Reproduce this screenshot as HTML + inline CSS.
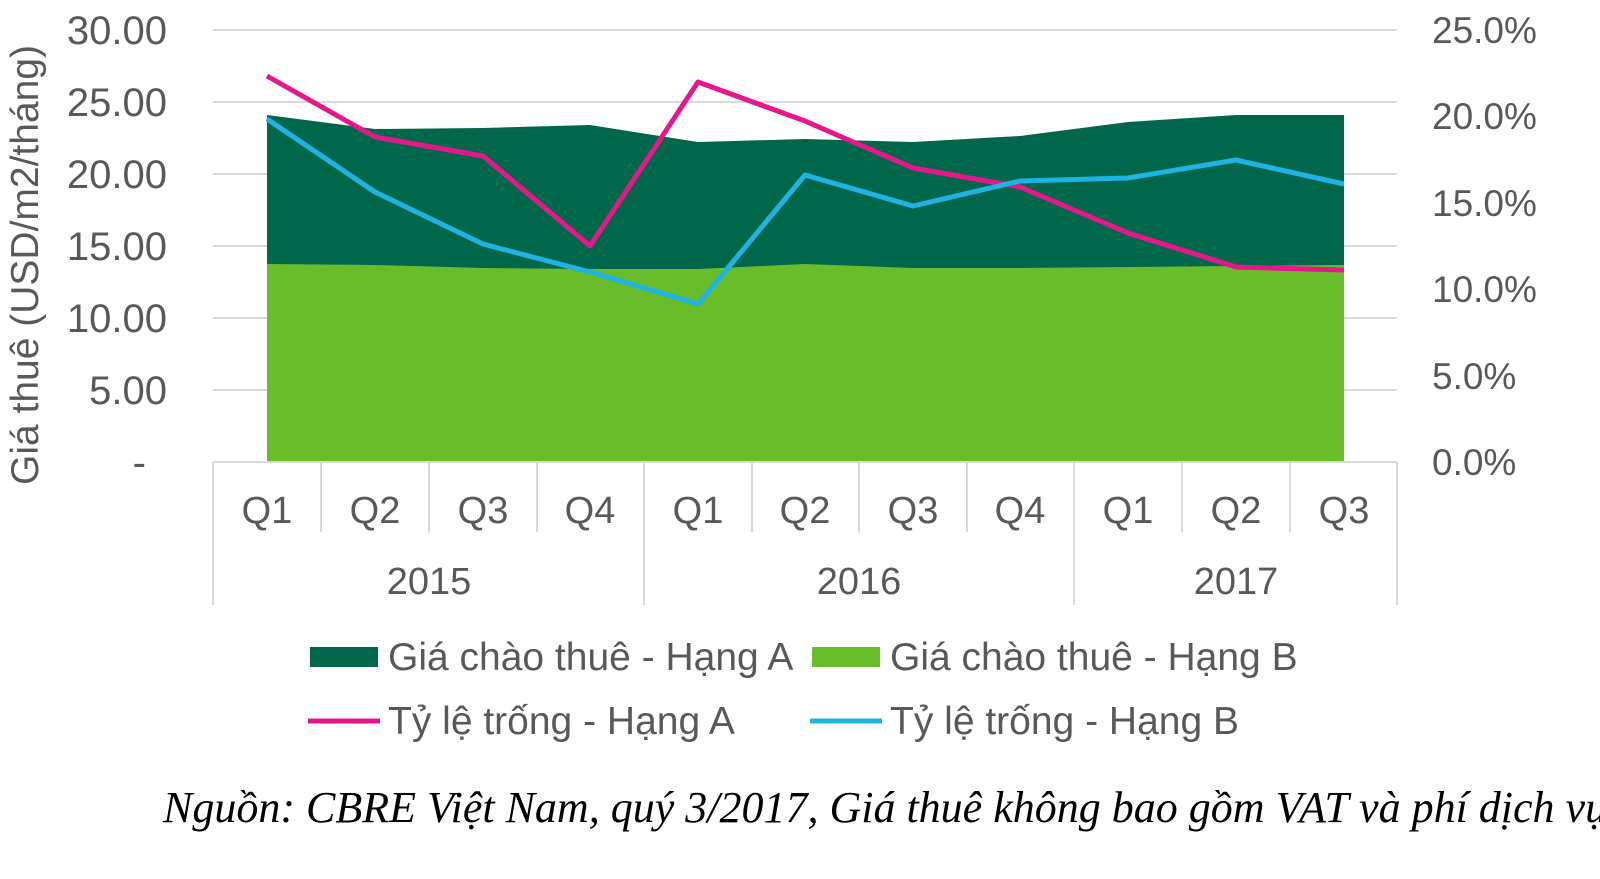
<!DOCTYPE html>
<html><head><meta charset="utf-8"><style>
body{margin:0;background:#fff;width:1600px;height:874px;overflow:hidden}
</style></head><body>
<svg width="1600" height="874" xmlns="http://www.w3.org/2000/svg" font-family="Liberation Sans, sans-serif">
<g stroke="#d9d9d9" stroke-width="2">
<line x1="213" y1="30" x2="1397" y2="30"/><line x1="213" y1="102" x2="1397" y2="102"/>
<line x1="213" y1="174" x2="1397" y2="174"/><line x1="213" y1="246" x2="1397" y2="246"/>
<line x1="213" y1="318" x2="1397" y2="318"/><line x1="213" y1="390" x2="1397" y2="390"/>
</g>
<polygon fill="#00674a" points="267,462 267,115 375,129 483,128 590,125 698,142 805,139 913,142 1020,136 1128,122 1236,115 1344,115 1344,462"/>
<polygon fill="#6abd2a" points="267,462 267,264 375,265 483,268 590,269 698,269 805,264 913,268 1020,268 1128,267 1236,266 1344,265 1344,462"/>
<polyline fill="none" stroke="#e5178a" stroke-width="5" stroke-linejoin="round" points="267,76 375,137 483,156 590,246 698,82 805,121 913,168 1020,187 1128,233 1236,267 1344,270"/>
<polyline fill="none" stroke="#1fb3e3" stroke-width="5" stroke-linejoin="round" points="267,119 375,192 483,244 590,272 698,304 805,175 913,206 1020,181 1128,178 1236,160 1344,184"/>
<g stroke="#d9d9d9" stroke-width="2">
<line x1="213" y1="462" x2="1397" y2="462"/>
<line x1="321" y1="462" x2="321" y2="532"/><line x1="429" y1="462" x2="429" y2="532"/><line x1="537" y1="462" x2="537" y2="532"/>
<line x1="752" y1="462" x2="752" y2="532"/><line x1="859" y1="462" x2="859" y2="532"/><line x1="967" y1="462" x2="967" y2="532"/>
<line x1="1182" y1="462" x2="1182" y2="532"/><line x1="1290" y1="462" x2="1290" y2="532"/>
<line x1="213" y1="462" x2="213" y2="605"/><line x1="644" y1="462" x2="644" y2="605"/><line x1="1074" y1="462" x2="1074" y2="605"/><line x1="1397" y1="462" x2="1397" y2="605"/>
</g>
<g fill="#595959" font-size="40">
<g text-anchor="end">
<text x="167" y="44">30.00</text><text x="167" y="116">25.00</text><text x="167" y="188">20.00</text>
<text x="167" y="260">15.00</text><text x="167" y="332">10.00</text><text x="167" y="404">5.00</text><text x="146" y="476">-</text>
</g>
<g text-anchor="start" font-size="37">
<text x="1432" y="43">25.0%</text><text x="1432" y="129">20.0%</text><text x="1432" y="216">15.0%</text>
<text x="1432" y="302">10.0%</text><text x="1432" y="389">5.0%</text><text x="1432" y="475">0.0%</text>
</g>
<g text-anchor="middle" font-size="38">
<text x="267" y="523">Q1</text><text x="375" y="523">Q2</text><text x="483" y="523">Q3</text><text x="590" y="523">Q4</text>
<text x="698" y="523">Q1</text><text x="805" y="523">Q2</text><text x="913" y="523">Q3</text><text x="1020" y="523">Q4</text>
<text x="1128" y="523">Q1</text><text x="1236" y="523">Q2</text><text x="1344" y="523">Q3</text>
<text x="429" y="594">2015</text><text x="859" y="594">2016</text><text x="1236" y="594">2017</text>
</g>
<text transform="translate(38,265) rotate(-90)" text-anchor="middle" font-size="39">Giá thuê (USD/m2/tháng)</text>
<rect x="310" y="647" width="68" height="20" fill="#00674a"/>
<text x="388" y="670" font-size="39">Giá chào thuê - Hạng A</text>
<rect x="812" y="647" width="68" height="20" fill="#6abd2a"/>
<text x="890" y="670" font-size="39">Giá chào thuê - Hạng B</text>
<line x1="308" y1="721" x2="380" y2="721" stroke="#e5178a" stroke-width="5"/>
<text x="388" y="734" font-size="39">Tỷ lệ trống - Hạng A</text>
<line x1="810" y1="721" x2="882" y2="721" stroke="#1fb3e3" stroke-width="5"/>
<text x="890" y="734" font-size="39">Tỷ lệ trống - Hạng B</text>
</g>
<text x="163" y="822" font-family="Liberation Serif, serif" font-style="italic" font-size="44" fill="#000">Nguồn: CBRE Việt Nam, quý 3/2017, Giá thuê không bao gồm VAT và phí dịch vụ</text>
</svg>
</body></html>
